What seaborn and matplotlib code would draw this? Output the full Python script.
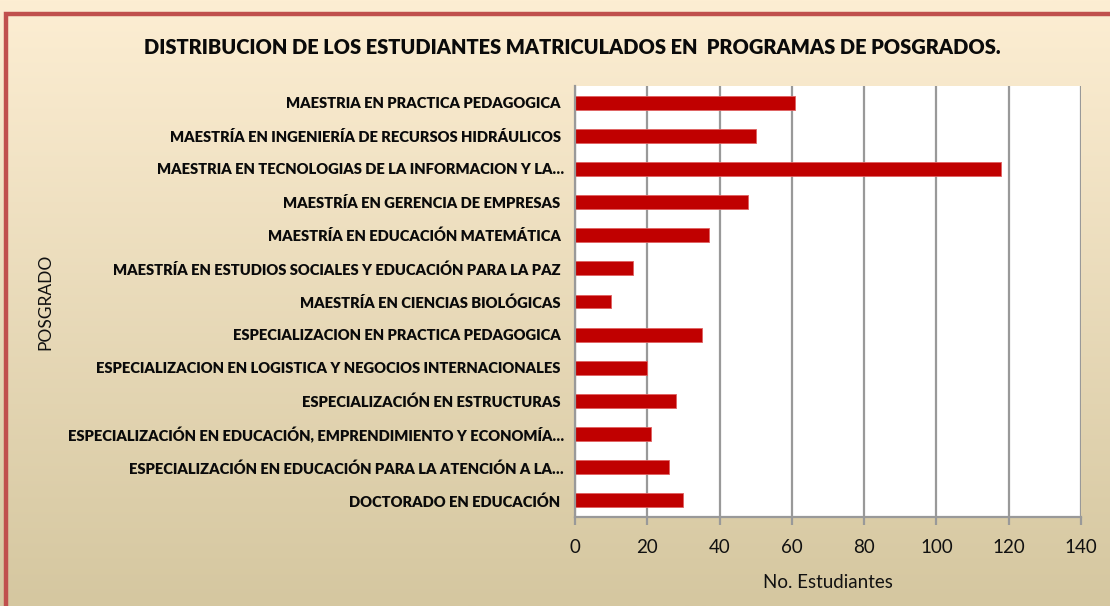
import numpy as np
import pandas as pd
import matplotlib
matplotlib.use("Agg")
import matplotlib.pyplot as plt
import seaborn as sns
from matplotlib.patches import Rectangle

programas = [
    "MAESTRIA EN PRACTICA PEDAGOGICA ",
    "MAESTRÍA EN INGENIERÍA DE RECURSOS HIDRÁULICOS ",
    "MAESTRIA EN TECNOLOGIAS DE LA INFORMACION Y LA…",
    "MAESTRÍA EN GERENCIA DE EMPRESAS ",
    "MAESTRÍA EN EDUCACIÓN MATEMÁTICA ",
    "MAESTRÍA EN ESTUDIOS SOCIALES Y EDUCACIÓN PARA LA PAZ ",
    "MAESTRÍA EN CIENCIAS BIOLÓGICAS ",
    "ESPECIALIZACION EN PRACTICA PEDAGOGICA ",
    "ESPECIALIZACION EN LOGISTICA Y NEGOCIOS INTERNACIONALES ",
    "ESPECIALIZACIÓN EN ESTRUCTURAS ",
    "ESPECIALIZACIÓN EN EDUCACIÓN, EMPRENDIMIENTO Y ECONOMÍA…",
    "ESPECIALIZACIÓN EN EDUCACIÓN PARA LA ATENCIÓN A LA…",
    "DOCTORADO EN EDUCACIÓN ",
]
estudiantes = [61, 50, 118, 48, 37, 16, 10, 35, 20, 28, 21, 26, 30]
x_ticks = [0, 20, 40, 60, 80, 100, 120, 140]

titulo = "DISTRIBUCION DE LOS ESTUDIANTES MATRICULADOS EN  PROGRAMAS DE POSGRADOS."
x_label = "No. Estudiantes"
y_label = "POSGRADO"

df = pd.DataFrame({"programa": programas, "estudiantes": estudiantes})

sns.set_theme(style="white")
plt.rcParams['font.family'] = ['Lato', 'DejaVu Sans']

W, H = 1110, 606
fig = plt.figure(figsize=(W / 100, H / 100), dpi=100)

# gradient background
bg = fig.add_axes([0, 0, 1, 1], zorder=0)
top = np.array([253, 238, 211]) / 255
bot = np.array([213, 199, 160]) / 255
t = np.linspace(0, 1, 256)[:, None]
grad = (top[None, :] * (1 - t) + bot[None, :] * t)[:, None, :]
bg.imshow(grad, aspect="auto", extent=[0, 1, 0, 1], origin="upper")
bg.set_xlim(0, 1)
bg.set_ylim(0, 1)
bg.axis("off")
bg.add_patch(Rectangle((6 / W, -0.01), 1.2, 1 - 14.5 / H + 0.01, fill=False,
                       edgecolor="#c0504d", linewidth=3.2))

ax = fig.add_axes([575 / W, 1 - 517 / H, (1081 - 575) / W, (517 - 86) / H], zorder=1)
ax.set_facecolor("white")
sns.barplot(data=df, x="estudiantes", y="programa", orient="h", ax=ax,
            color="#c00000", width=0.42, edgecolor="#e06060", linewidth=0.6,
            saturation=1)
ax.set_xlim(0, 140)
ax.set_xticks(x_ticks)
ax.grid(axis="x", color="#999999", linewidth=1.6)
ax.set_axisbelow(True)
for s in ["top", "right"]:
    ax.spines[s].set_visible(False)
ax.spines["left"].set_color("#999999")
ax.spines["left"].set_linewidth(1.6)
ax.spines["bottom"].set_color("#999999")
ax.spines["bottom"].set_linewidth(1.6)
ax.tick_params(axis="x", bottom=True, length=6, width=1.6, color="#999999",
               labelsize=13.5, pad=10, labelcolor="#111111")
ax.tick_params(axis="y", left=False, pad=2)
for lab in ax.get_yticklabels():
    lab.set_fontweight("heavy")
    lab.set_fontsize(10.6)
    lab.set_color("#0a0a0a")
ax.set_xlabel(x_label, fontsize=13.5, color="#111111", labelpad=13)
ax.set_ylabel("")

fig.text(45 / W, 1 - 302 / H, y_label, rotation=90, ha="center", va="center",
         fontsize=12.5, color="#111111")
fig.text(572 / W, 1 - 47 / H, titulo, ha="center", va="center",
         fontsize=14.4, fontweight="heavy", color="#0a0a0a")

fig.savefig("out.png", dpi=100)
